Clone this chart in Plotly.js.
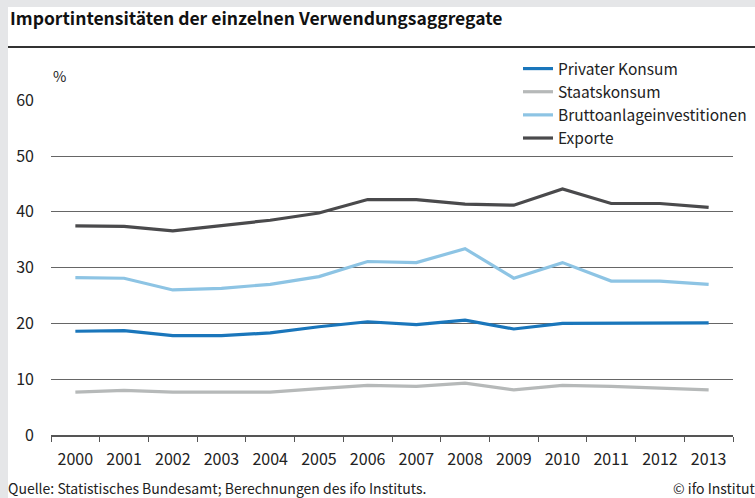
<!DOCTYPE html>
<html>
<head>
<meta charset="utf-8">
<script src="https://cdn.plot.ly/plotly-3.0.1.min.js"></script>
<style>html,body{margin:0;padding:0;background:#fff;}#chart{width:755px;height:498px;}</style>
</head>
<body>
<div id="chart"></div>
<script>
const years = ['2000','2001','2002','2003','2004','2005','2006','2007','2008','2009','2010','2011','2012','2013'];
const privaterKonsum = [18.6,18.7,17.8,17.8,18.3,19.4,20.3,19.8,20.6,19.0,20.0,20.0,20.1,20.1];
const staatskonsum = [7.7,8.0,7.7,7.7,7.7,8.3,8.9,8.7,9.3,8.1,8.9,8.7,8.4,8.1];
const bruttoanlage = [28.2,28.1,26.0,26.3,27.0,28.4,31.1,30.9,33.4,28.1,30.9,27.6,27.6,27.0];
const exporte = [37.5,37.4,36.6,37.6,38.5,39.8,42.2,42.2,41.4,41.2,44.1,41.5,41.5,40.8];
const seriesNames = ['Privater Konsum','Staatskonsum','Bruttoanlageinvestitionen','Exporte'];
const yTicks = [0,10,20,30,40,50,60];

const fontFam = '"Noto Sans CJK JP", "Noto Sans", Roboto, sans-serif';
const W = 755, H = 498, L = 51, R = 22, T = 100, B = 63;
const pw = W - L - R, ph = H - T - B;
const px = x => (x - L) / pw;
const py = y => (H - B - y) / ph;

const colors = ['#1a76bb','#b6b9b9','#8dc4e4','#4a4a4c'];
const data = [privaterKonsum, staatskonsum, bruttoanlage, exporte].map((v,i) => ({
  x: years, y: v, type: 'scatter', mode: 'lines', name: seriesNames[i],
  legendgroup: 'g'+i,
  line: {color: colors[i], width: 3.2}, hoverinfo: 'skip'
}));

const layout = {
  width: W, height: H,
  margin: {l: L, r: R, t: T, b: B, autoexpand: false},
  paper_bgcolor: '#ffffff', plot_bgcolor: '#ffffff',
  font: {family: fontFam, size: 14, color: '#222'},
  title: {
    text: 'Importintensitäten der einzelnen Verwendungsaggregate',
    font: {family: fontFam, size: 17.5, weight: 700, color: '#111'},
    xref: 'container', yref: 'container', x: 10/W, xanchor: 'left', y: 1 - 19/H, yanchor: 'middle'
  },
  xaxis: {
    type: 'category', range: [-0.5, 13.5], tickson: 'boundaries',
    ticks: 'outside', ticklen: 5, tickwidth: 1, tickcolor: '#555',
    showline: true, linecolor: '#555', linewidth: 2,
    showgrid: false, zeroline: false, fixedrange: true,
    tickfont: {size: 16, color: '#222'}, ticklabelstandoff: 9
  },
  yaxis: {
    range: [0, 60.05], tickvals: yTicks, ticktext: yTicks.map(String),
    showgrid: true, gridcolor: '#666', gridwidth: 1,
    zeroline: false, showline: false, ticks: '', fixedrange: true,
    tickfont: {size: 16, color: '#222'}, ticklabelstandoff: 16
  },
  showlegend: true,
  legend: {
    x: px(518), xanchor: 'left', y: py(52), yanchor: 'top',
    bgcolor: '#ffffff', borderwidth: 0, tracegroupgap: 0,
    font: {size: 15.5, color: '#222'}, traceorder: 'normal'
  },
  annotations: [
    {text: '%', xref: 'paper', yref: 'paper', x: px(51), y: py(76), xanchor: 'left', yanchor: 'middle', showarrow: false, font: {size: 14.5, color: '#222'}},
    {text: 'Quelle: Statistisches Bundesamt; Berechnungen des ifo Instituts.', xref: 'paper', yref: 'paper', x: px(6), y: py(488), xanchor: 'left', yanchor: 'middle', showarrow: false, font: {size: 14, color: '#222'}},
    {text: '© ifo Institut', xref: 'paper', yref: 'paper', x: px(757), y: py(488), xanchor: 'right', yanchor: 'middle', showarrow: false, font: {size: 14, color: '#222'}}
  ],
  shapes: [
    {type: 'rect', xref: 'paper', yref: 'paper', x0: px(0), x1: px(8), y0: py(498), y1: py(0), fillcolor: '#e5e6e8', line: {width: 0}, layer: 'above'},
    {type: 'rect', xref: 'paper', yref: 'paper', x0: px(0), x1: px(755), y0: py(7), y1: py(0), fillcolor: '#e5e6e8', line: {width: 0}, layer: 'above'},
    {type: 'line', xref: 'paper', yref: 'paper', x0: px(8), x1: px(755), y0: py(47), y1: py(47), line: {color: '#333', width: 2}}
  ]
};

Plotly.newPlot('chart', data, layout, {displayModeBar: false, staticPlot: true});
</script>
</body>
</html>
